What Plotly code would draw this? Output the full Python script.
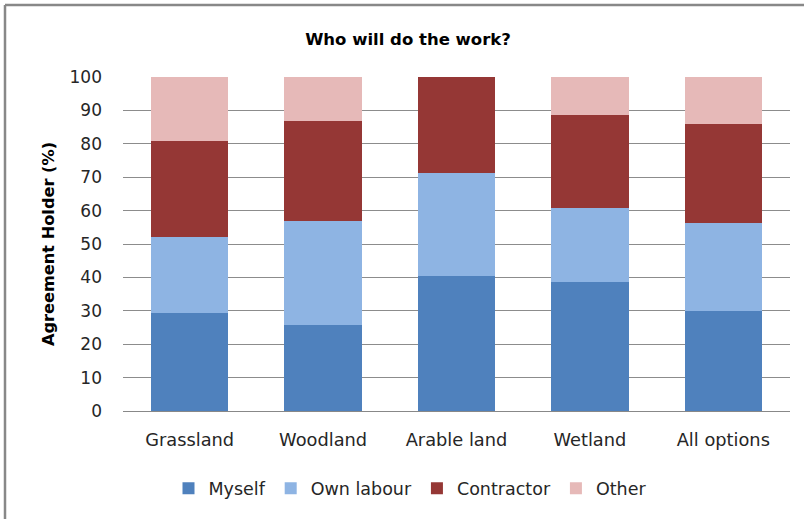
import plotly.graph_objects as go

categories = ["Grassland", "Woodland", "Arable land", "Wetland", "All options"]
myself = [29.4, 25.8, 40.3, 38.7, 30.0]
own_labour = [22.8, 31.2, 30.9, 22.2, 26.4]
contractor = [28.5, 29.7, 28.8, 27.8, 29.4]
other = [19.3, 13.3, 0.0, 11.3, 14.2]

series = [
    ("Myself", myself, "#4F81BD"),
    ("Own labour", own_labour, "#8EB4E3"),
    ("Contractor", contractor, "#953735"),
    ("Other", other, "#E6B9B8"),
]

FONT = "'DejaVu Sans', 'Open Sans', sans-serif"

fig = go.Figure()
for name, vals, color in series:
    fig.add_trace(go.Bar(
        x=categories, y=vals, name=name,
        marker=dict(color=color, line=dict(width=0)),
        width=0.58,
    ))

W, H = 804, 519
ml, mr, mt, mb = 123, 14, 77, 107.5
pw, ph = W - ml - mr, H - mt - mb

def px_x(x):
    return (x - ml) / pw

def px_y(y):
    return (H - mb - y) / ph

fig.update_layout(
    width=W, height=H,
    margin=dict(l=ml, r=mr, t=mt, b=mb, pad=0),
    barmode="stack",
    bargap=0.42,
    plot_bgcolor="white", paper_bgcolor="white",
    font=dict(family=FONT, size=17, color="#262626"),
    title=dict(
        text="<b>Who will do the work?</b>",
        x=px_x(408), xref="paper", xanchor="center",
        y=1 - 39 / H, yref="container", yanchor="middle",
        font=dict(family=FONT, size=16.5, color="black"),
    ),
    xaxis=dict(
        showgrid=False, showline=True, linecolor="#888888", linewidth=1,
        ticks="", tickfont=dict(size=17.8), ticklabelstandoff=13,
    ),
    yaxis=dict(
        range=[0, 100], dtick=10, showgrid=True, gridcolor="#8C8C8C", gridwidth=1,
        zeroline=False, showline=False, ticks="", ticklabelstandoff=20,
        tickfont=dict(size=17),
        title=dict(text="<b>Agreement Holder (%)</b>", font=dict(size=16.2, color="black"), standoff=10),
    ),
    legend=dict(
        orientation="h", x=px_x(410), xanchor="center",
        y=px_y(489), yanchor="middle",
        font=dict(size=17.5), itemwidth=30, traceorder="normal",
    ),
    showlegend=True,
)

# Chart frame: top and left edges
fig.add_shape(type="line", xref="paper", yref="paper",
              x0=px_x(5), x1=px_x(W + 5), y0=px_y(5), y1=px_y(5),
              line=dict(color="#888888", width=2.5))
fig.add_shape(type="line", xref="paper", yref="paper",
              x0=px_x(5), x1=px_x(5), y0=px_y(5), y1=px_y(H + 5),
              line=dict(color="#888888", width=2.5))

fig.write_html("out.html")
